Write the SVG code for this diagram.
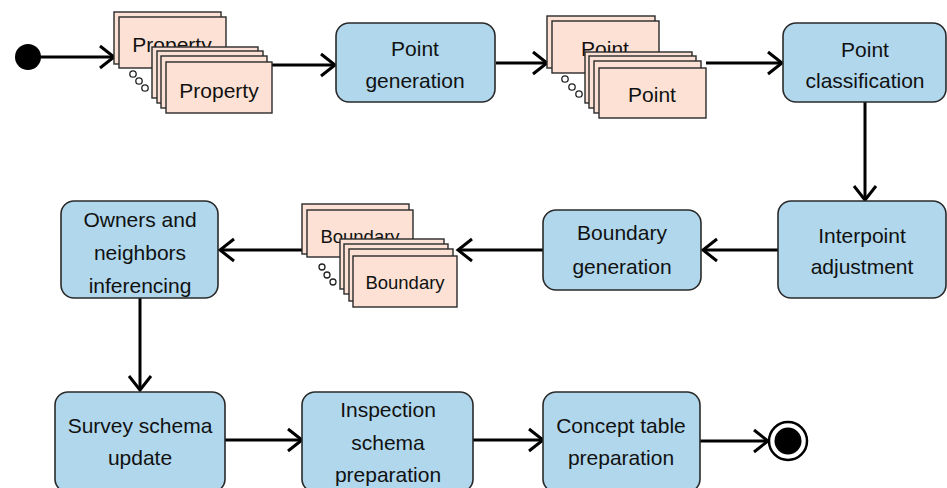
<svg xmlns="http://www.w3.org/2000/svg" width="947" height="488" viewBox="0 0 947 488">
<style>
.box{fill:#b0d7ec;stroke:#2a2a2a;stroke-width:1.6}
.card{fill:#fce1d4;stroke:#2a2a2a;stroke-width:1.4}
.t{font-family:"Liberation Sans",Arial,sans-serif;font-size:21px;fill:#111;text-anchor:middle}
.ts{font-family:"Liberation Sans",Arial,sans-serif;font-size:18.5px;fill:#111;text-anchor:middle}
.c{stroke:#000;stroke-width:3;fill:none}
.dot{fill:#fff;stroke:#222;stroke-width:1.3}
</style>
<defs>
<marker id="arr" markerUnits="userSpaceOnUse" markerWidth="22" markerHeight="28" refX="17" refY="13" orient="auto" viewBox="0 0 22 28">
<path d="M3,2 L17,13 L3,24" fill="none" stroke="#000" stroke-width="3"/>
</marker>
</defs>
<rect width="947" height="488" fill="#fff"/>

<g id="connectors">
<line class="c" x1="40" y1="57" x2="114" y2="57" marker-end="url(#arr)"/>
<line class="c" x1="272" y1="65" x2="335" y2="65" marker-end="url(#arr)"/>
<line class="c" x1="496" y1="63" x2="547" y2="63" marker-end="url(#arr)"/>
<line class="c" x1="706" y1="63" x2="782" y2="63" marker-end="url(#arr)"/>
<line class="c" x1="865" y1="102" x2="865" y2="200" marker-end="url(#arr)"/>
<line class="c" x1="778" y1="250" x2="703" y2="250" marker-end="url(#arr)"/>
<line class="c" x1="543" y1="250" x2="458" y2="250" marker-end="url(#arr)"/>
<line class="c" x1="302" y1="250" x2="220" y2="250" marker-end="url(#arr)"/>
<line class="c" x1="140" y1="298" x2="140" y2="390" marker-end="url(#arr)"/>
<line class="c" x1="225" y1="440" x2="302" y2="440" marker-end="url(#arr)"/>
<line class="c" x1="473" y1="440" x2="543" y2="440" marker-end="url(#arr)"/>
<line class="c" x1="700" y1="441" x2="768" y2="441" marker-end="url(#arr)"/>
</g>

<g id="start"><circle cx="28" cy="57" r="13" fill="#000"/></g>

<g id="property">
<rect class="card" x="114" y="12" width="107" height="52"/>
<rect class="card" x="119" y="17" width="107" height="51"/>
<text class="t" x="172" y="52">Property</text>
<rect class="card" x="152" y="47" width="106" height="51"/>
<rect class="card" x="157" y="51" width="106" height="52"/>
<rect class="card" x="161" y="56" width="106" height="52"/>
<rect class="card" x="166" y="62" width="106" height="51"/>
<text class="t" x="219" y="98">Property</text>
<circle class="dot" cx="133" cy="74" r="3.2"/>
<circle class="dot" cx="139" cy="81" r="3.2"/>
<circle class="dot" cx="145" cy="88" r="3.2"/>
</g>

<g id="point-generation">
<rect class="box" x="336" y="23" width="159" height="79" rx="13"/>
<text class="t" x="415" y="56">Point</text>
<text class="t" x="415" y="88">generation</text>
</g>

<g id="point">
<rect class="card" x="547" y="16" width="108" height="52"/>
<rect class="card" x="552" y="21" width="107" height="52"/>
<text class="t" x="605" y="56">Point</text>
<rect class="card" x="585" y="52" width="107" height="51"/>
<rect class="card" x="589" y="56" width="107" height="52"/>
<rect class="card" x="594" y="61" width="107" height="52"/>
<rect class="card" x="599" y="68" width="107" height="50"/>
<text class="t" x="652" y="102">Point</text>
<circle class="dot" cx="565" cy="79" r="3.2"/>
<circle class="dot" cx="572" cy="87" r="3.2"/>
<circle class="dot" cx="579" cy="94" r="3.2"/>
</g>

<g id="point-classification">
<rect class="box" x="783" y="23" width="163" height="79" rx="13"/>
<text class="t" x="865" y="57">Point</text>
<text class="t" x="865" y="88">classification</text>
</g>

<g id="interpoint-adjustment">
<rect class="box" x="778" y="201" width="168" height="97" rx="13"/>
<text class="t" x="862" y="243">Interpoint</text>
<text class="t" x="862" y="274">adjustment</text>
</g>

<g id="boundary-generation">
<rect class="box" x="543" y="210" width="158" height="80" rx="13"/>
<text class="t" x="622" y="240">Boundary</text>
<text class="t" x="622" y="274">generation</text>
</g>

<g id="boundary">
<rect class="card" x="302" y="204" width="107" height="50"/>
<rect class="card" x="307" y="210" width="106" height="47"/>
<text class="ts" x="360" y="243">Boundary</text>
<rect class="card" x="340" y="239" width="104" height="50"/>
<rect class="card" x="344" y="244" width="104" height="50"/>
<rect class="card" x="349" y="249" width="104" height="52"/>
<rect class="card" x="353" y="256" width="104" height="51"/>
<text class="ts" x="405" y="289">Boundary</text>
<circle class="dot" cx="322" cy="267" r="3"/>
<circle class="dot" cx="327" cy="275" r="3"/>
<circle class="dot" cx="333" cy="282" r="3"/>
</g>

<g id="owners-neighbors">
<rect class="box" x="61" y="201" width="157" height="97" rx="13"/>
<text class="t" x="140" y="227">Owners and</text>
<text class="t" x="140" y="260">neighbors</text>
<text class="t" x="140" y="293">inferencing</text>
</g>

<g id="survey-schema">
<rect class="box" x="55" y="392" width="170" height="100" rx="13"/>
<text class="t" x="140" y="433">Survey schema</text>
<text class="t" x="140" y="465">update</text>
</g>

<g id="inspection-schema">
<rect class="box" x="302" y="392" width="171" height="100" rx="13"/>
<text class="t" x="388" y="417">Inspection</text>
<text class="t" x="388" y="450">schema</text>
<text class="t" x="388" y="482">preparation</text>
</g>

<g id="concept-table">
<rect class="box" x="543" y="392" width="157" height="100" rx="13"/>
<text class="t" x="621" y="433">Concept table</text>
<text class="t" x="621" y="465">preparation</text>
</g>

<g id="end">
<circle cx="788" cy="441" r="19" fill="#fff" stroke="#000" stroke-width="2.5"/>
<circle cx="788" cy="441" r="13.5" fill="#000"/>
</g>
</svg>
